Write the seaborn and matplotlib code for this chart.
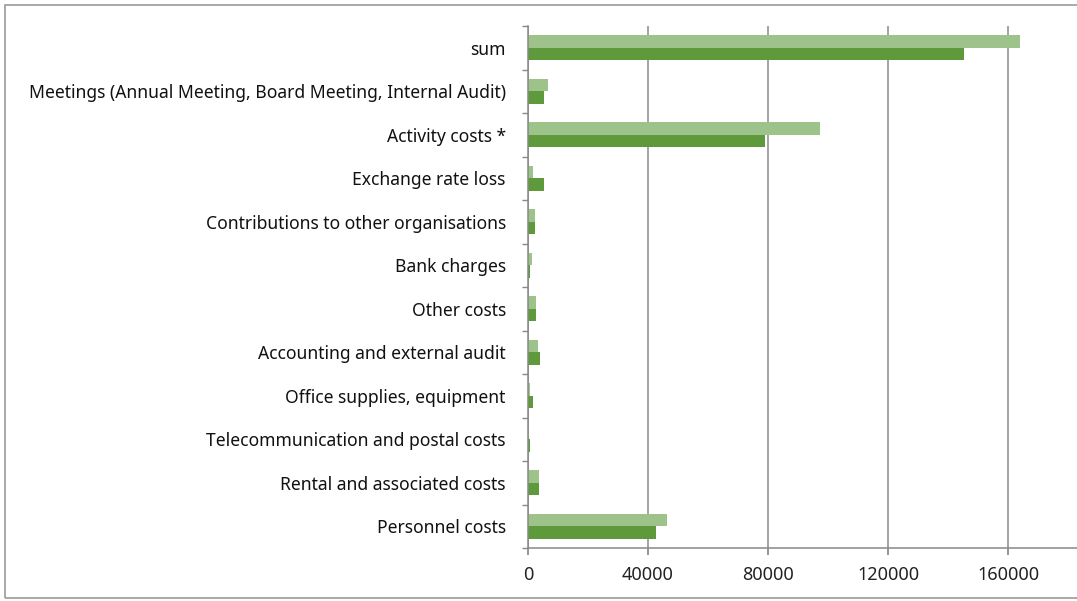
import matplotlib
matplotlib.use("Agg")
import matplotlib.pyplot as plt
import seaborn as sns
import pandas as pd
import numpy as np
from matplotlib.patches import Rectangle

categories = [
    "sum",
    "Meetings (Annual Meeting, Board Meeting, Internal Audit)",
    "Activity costs *",
    "Exchange rate loss",
    "Contributions to other organisations",
    "Bank charges",
    "Other costs",
    "Accounting and external audit",
    "Office supplies, equipment",
    "Telecommunication and postal costs",
    "Rental and associated costs",
    "Personnel costs",
]
series_names = ["Series B", "Series A"]
values_light = [164000, 6700, 97200, 1800, 2300, 1300, 2800, 3400, 600, 400, 3500, 46200]
values_dark = [145300, 5200, 79000, 5400, 2300, 700, 2800, 3900, 1800, 500, 3500, 42800]
x_ticks = [0, 40000, 80000, 120000, 160000]

df = pd.DataFrame({
    "category": categories * 2,
    "series": [series_names[0]] * len(categories) + [series_names[1]] * len(categories),
    "value": values_light + values_dark,
})

sns.set_theme(style="white")
plt.rcParams["font.family"] = ["Noto Sans", "DejaVu Sans"]

fig = plt.figure(figsize=(10.77, 6.01), dpi=100)
ax = fig.add_axes([528 / 1077, 1 - 548 / 601, 1 - 528 / 1077, (548 - 26) / 601])

sns.barplot(data=df, y="category", x="value", hue="series", order=categories,
            hue_order=series_names, palette=["#9DC38A", "#5E9A3B"], orient="h",
            width=0.57, gap=0, ax=ax, legend=False, saturation=1, errorbar=None,
            linewidth=0, edgecolor="none")

ax.set_xlim(0, 183000)
ax.set_ylim(len(categories) - 0.5, -0.5)
ax.set_xticks(x_ticks)
ax.set_xticklabels([str(t) for t in x_ticks], fontsize=13, color="#222222")
ax.set_yticks(range(len(categories)))
ax.set_yticklabels(categories, fontsize=12.6, color="#111111")
ax.set_yticks(np.arange(-0.5, len(categories), 1), minor=True)
ax.tick_params(axis="y", which="major", length=0, pad=16)
ax.tick_params(axis="y", which="minor", length=4, color="#888888", direction="out", left=True)
ax.tick_params(axis="x", which="major", length=5, color="#888888", direction="out", bottom=True, pad=8)
ax.set_xlabel("")
ax.set_ylabel("")
ax.grid(axis="x", color="#8a8a8a", linewidth=1.1)
ax.set_axisbelow(True)
for s in ["top", "right"]:
    ax.spines[s].set_visible(False)
for s in ["left", "bottom"]:
    ax.spines[s].set_color("#888888")
    ax.spines[s].set_linewidth(1.1)

fig.patches.append(Rectangle((5 / 1077, 3 / 601), 1.2, 1 - 8 / 601, transform=fig.transFigure,
                             fill=False, edgecolor="#999999", linewidth=1.2, zorder=-1))

fig.savefig("out.png", dpi=100)
